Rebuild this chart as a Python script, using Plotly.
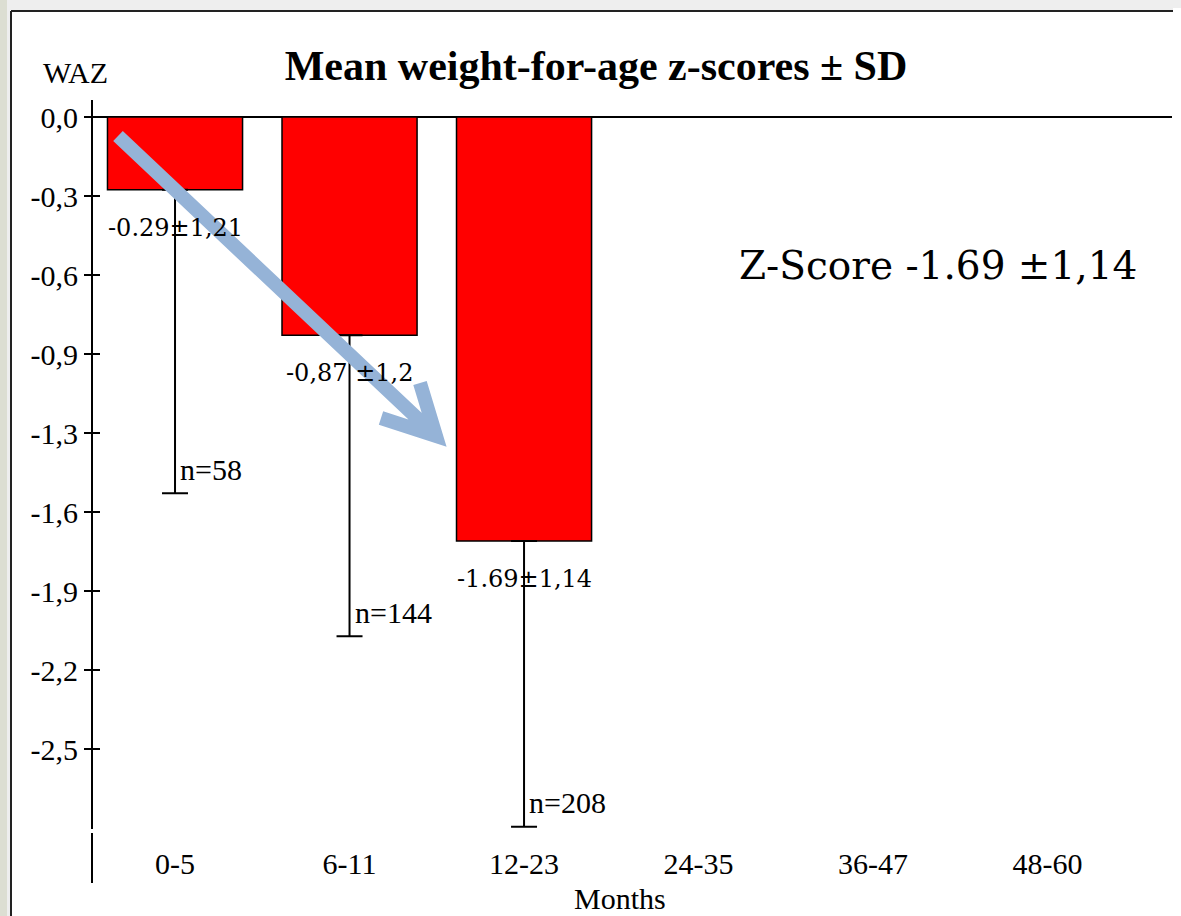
import plotly.graph_objects as go

# ---- data ----
age_groups = ["0-5", "6-11", "12-23", "24-35", "36-47", "48-60"]
mean_waz = [-0.29, -0.87, -1.69]
sd_waz = [1.21, 1.2, 1.14]
n_obs = [58, 144, 208]
bar_labels = ["-0.29±1,21", "-0,87 ±1,2", "-1.69±1,14"]
tick_step = 0.315
tick_labels = ["0,0", "-0,3", "-0,6", "-0,9", "-1,3", "-1,6", "-1,9", "-2,2", "-2,5"]
tick_values = [-tick_step * i for i in range(len(tick_labels))]

# page has an 8px body margin: figure is drawn at (8, 8)
OFF = 8
W_REF, H_REF = 1181, 916
W, H = W_REF - 2 * OFF, H_REF - OFF
ML, MR, MT, MB = 93 - OFF, 1, 100 - OFF, 33
PW, PH = W - ML - MR, H - MT - MB


def X(px):
    return (px - OFF - ML) / PW


def Y(py):
    return (H - MB - (py - OFF)) / PH


TIMES = "Liberation Serif, Times New Roman, serif"
GEORGIA = "DejaVu Serif, Georgia, serif"

fig = go.Figure()
fig.add_trace(go.Bar(
    x=age_groups[:len(mean_waz)], y=mean_waz, width=0.774,
    marker=dict(color="#FF0000", line=dict(color="black", width=1.5)),
    error_y=dict(type="data", symmetric=False, array=[0] * len(sd_waz),
                 arrayminus=sd_waz, color="black", thickness=2, width=13),
    showlegend=False, hoverinfo="skip",
))
# invisible trace for second (inside-tick) axis
fig.add_trace(go.Scatter(x=[age_groups[0]], y=[0], yaxis="y2", mode="markers",
                         marker=dict(opacity=0), showlegend=False, hoverinfo="skip"))

yr = [-3.054, 0.068]
fig.update_layout(
    width=W, height=H,
    margin=dict(l=ML, r=MR, t=MT, b=MB),
    paper_bgcolor="white", plot_bgcolor="rgba(0,0,0,0)",
    title=dict(text="<b>Mean weight-for-age z-scores ± SD</b>", xref="paper", x=X(596),
               xanchor="center", y=1 - (65 - OFF) / H, yanchor="middle",
               font=dict(family=TIMES, size=42, color="black")),
    xaxis=dict(type="category", categoryorder="array", categoryarray=age_groups,
               range=[-0.47, 5.713], showgrid=False, showline=False, ticks="",
               ticklabelposition="inside", zeroline=False,
               tickfont=dict(family=TIMES, size=30, color="black")),
    yaxis=dict(range=yr, tickvals=tick_values, ticktext=tick_labels, showgrid=False,
               showline=True, linecolor="black", linewidth=2,
               ticks="outside", ticklen=7, tickwidth=2, tickcolor="black",
               zeroline=True, zerolinecolor="black", zerolinewidth=2,
               tickfont=dict(family=TIMES, size=30, color="black")),
    yaxis2=dict(range=yr, overlaying="y", side="left", anchor="x", tickvals=tick_values,
                showticklabels=False, ticks="inside", ticklen=7, tickwidth=2,
                tickcolor="black", showgrid=False, showline=False, zeroline=False),
    bargap=0.2,
)

shapes = [
    # gray border strips inside the figure (top/left of the frame)
    dict(type="rect", xref="paper", yref="paper", x0=X(OFF), x1=X(W_REF), y0=Y(10), y1=Y(OFF),
         fillcolor="#EEEEEE", line=dict(width=0), layer="below"),
    dict(type="rect", xref="paper", yref="paper", x0=X(OFF), x1=X(10), y0=Y(H_REF), y1=Y(OFF),
         fillcolor="#EEEEEE", line=dict(width=0), layer="below"),
    # frame lines (top and left)
    dict(type="line", xref="paper", yref="paper", x0=X(11), x1=X(W_REF), y0=Y(11), y1=Y(11),
         line=dict(color="#222222", width=2), layer="below"),
    dict(type="line", xref="paper", yref="paper", x0=X(11), x1=X(11), y0=Y(11), y1=Y(H_REF),
         line=dict(color="#222222", width=2), layer="below"),
    # small break in the y axis line
    dict(type="line", xref="paper", yref="paper", x0=X(90), x1=X(96), y0=Y(831), y1=Y(831),
         line=dict(color="white", width=4)),
    # arrow
    dict(type="path", xref="paper", yref="paper",
         path=(f"M {X(118)},{Y(136)} L {X(434)},{Y(434)} "
               f"M {X(381)},{Y(418)} L {X(436)},{Y(436)} L {X(420)},{Y(383)}"),
         line=dict(color="#95B3D7", width=14), layer="above"),
]
fig.update_layout(shapes=shapes)

annotations = []
for cat, m, s, lab, n in zip(age_groups, mean_waz, sd_waz, bar_labels, n_obs):
    annotations.append(dict(x=cat, y=m, xref="x", yref="y", text=lab, showarrow=False,
                            xanchor="center", yanchor="middle", yshift=-38,
                            font=dict(family=GEORGIA, size=24, color="black")))
    annotations.append(dict(x=cat, y=m - s, xref="x", yref="y", text=f"n={n}",
                            showarrow=False, xanchor="left", yanchor="middle",
                            xshift=3, yshift=24,
                            font=dict(family=TIMES, size=30, color="black")))
annotations += [
    dict(x=X(75), y=Y(72), xref="paper", yref="paper", text="WAZ", showarrow=False,
         xanchor="center", yanchor="middle", font=dict(family=TIMES, size=30, color="black")),
    dict(x=X(620), y=Y(898), xref="paper", yref="paper", text="Months", showarrow=False,
         xanchor="center", yanchor="middle", font=dict(family=TIMES, size=30, color="black")),
    dict(x=X(938), y=Y(265), xref="paper", yref="paper", text="Z-Score -1.69 ±1,14",
         showarrow=False, xanchor="center", yanchor="middle",
         font=dict(family=GEORGIA, size=39, color="black")),
]
fig.update_layout(annotations=annotations)

page_style = (
    "document.documentElement.style.overflow = 'hidden';"
    "document.body.style.overflow = 'hidden';"
    "document.body.style.background = "
    "'linear-gradient(to right, #DCDED2 7px, #EEEEEE 7px, #EEEEEE 8px, transparent 8px), "
    "linear-gradient(to bottom, #EEEEEE 8px, white 8px)';"
)
fig.write_html("out.html", post_script=page_style)
